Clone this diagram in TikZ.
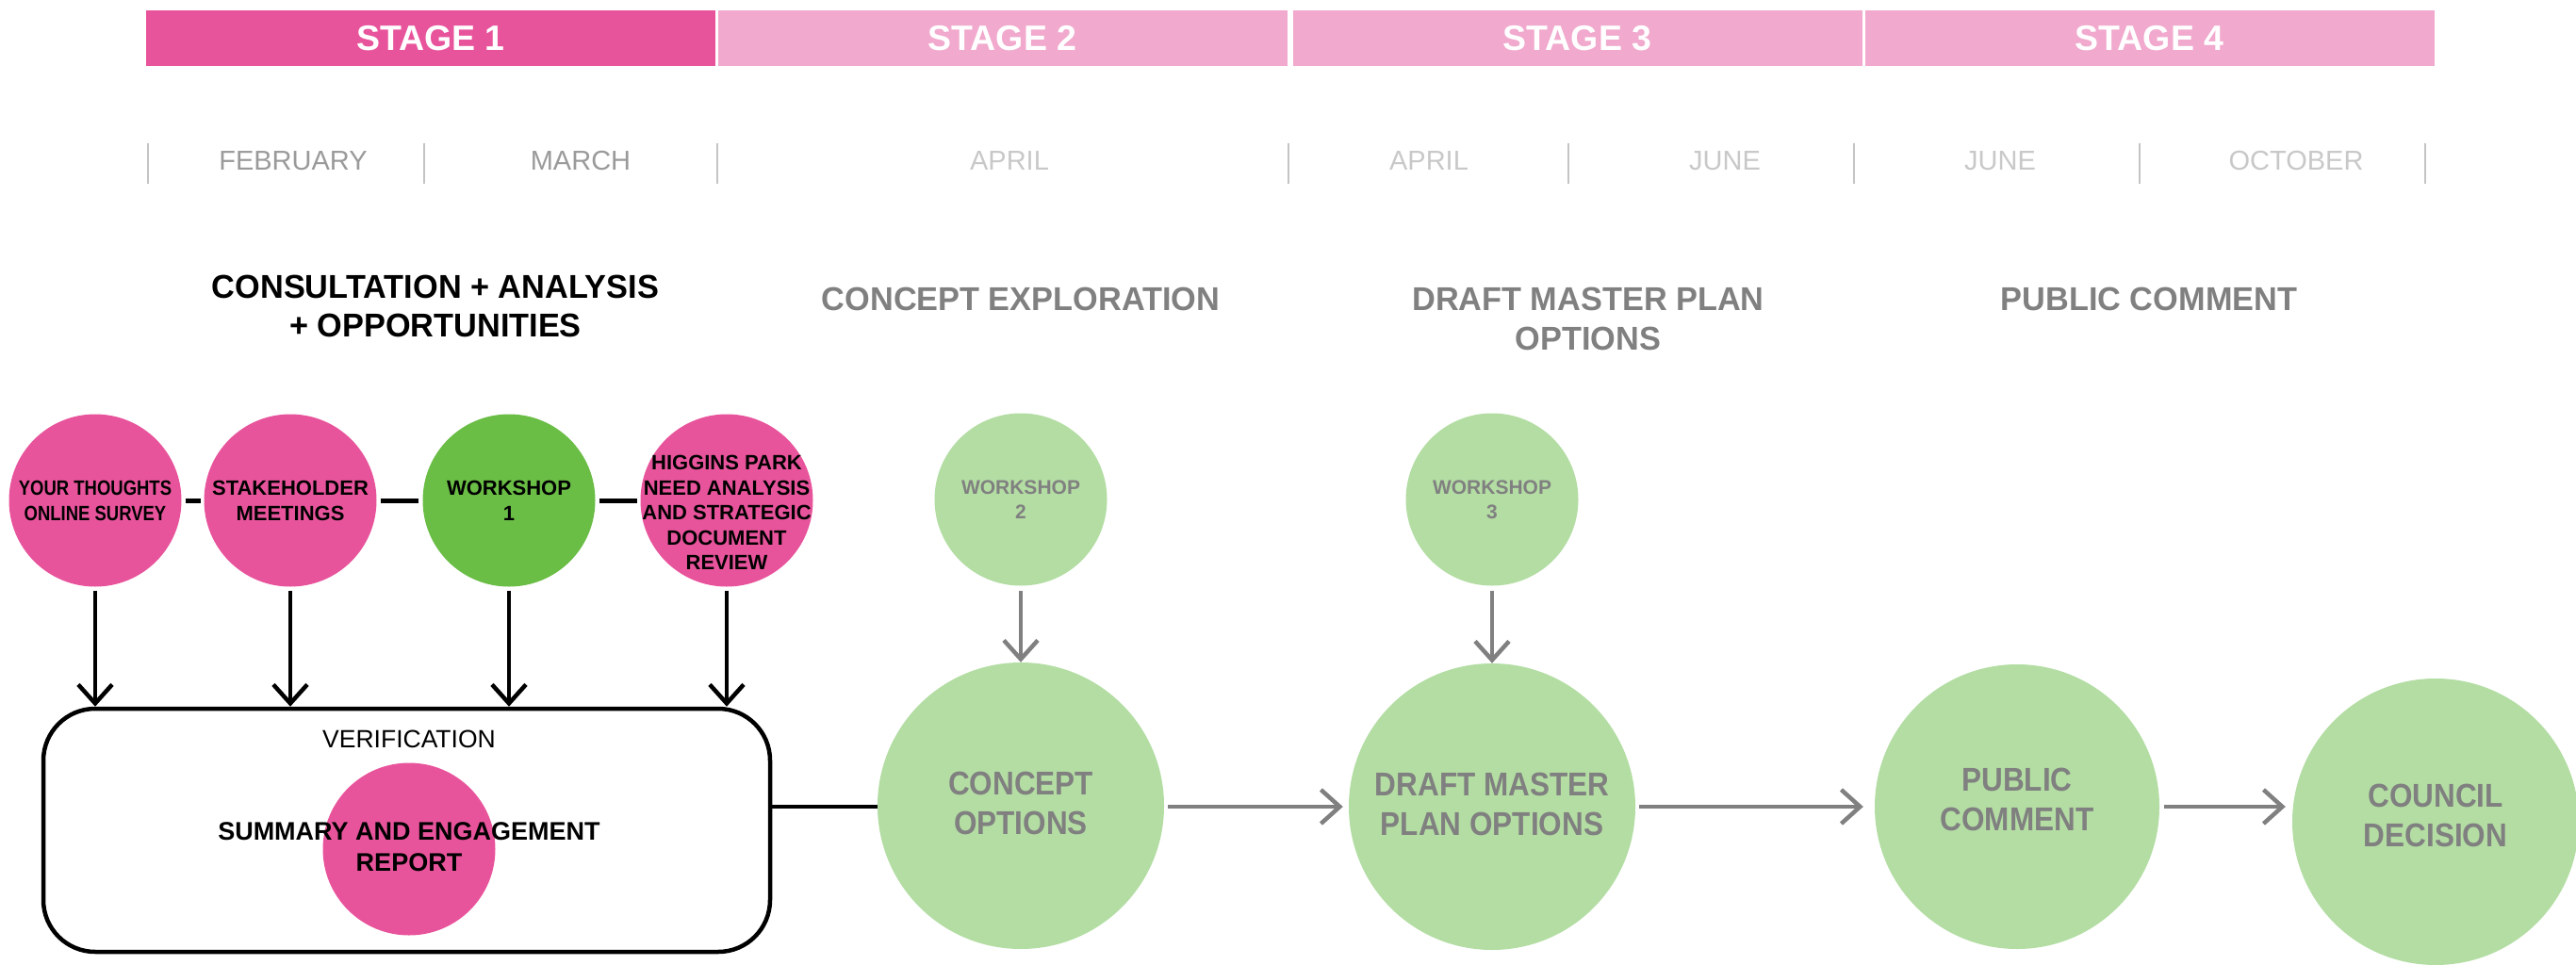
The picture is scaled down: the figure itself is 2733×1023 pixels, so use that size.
\documentclass[tikz,border=0pt]{standalone}
\usepackage{fontspec}
\setmainfont{Liberation Sans}
\newfontfamily\hfont{Liberation Sans}[FakeStretch=0.98]
\newfontfamily\cfont{Liberation Sans}[FakeStretch=0.9]
\newfontfamily\ccfont{Liberation Sans}[FakeStretch=0.84]
\usetikzlibrary{arrows.meta}
\definecolor{hotpink}{HTML}{E8549C}
\definecolor{softpink}{HTML}{F1A9CD}
\definecolor{dgreen}{HTML}{6ABD45}
\definecolor{lgreen}{HTML}{B3DDA3}
\definecolor{tgray}{HTML}{808080}
\definecolor{mgray}{HTML}{9A9A9A}
\definecolor{lmgray}{HTML}{C8C8C8}
\definecolor{tickgray}{HTML}{C4C4C4}
\begin{document}
\begin{tikzpicture}[x=1pt,y=-1pt,
  stagebox/.style={rectangle, minimum width=604pt, minimum height=59pt, inner sep=0pt, text=white, font=\bfseries\fontsize{37.5}{40}\selectfont},
  month/.style={inner sep=0pt, font=\fontsize{29}{30}\selectfont},
  tickline/.style={draw=tickgray, line width=1.5pt},
  head/.style={inner sep=0pt, align=center, font=\hfont\bfseries\fontsize{35}{41}\selectfont},
  smallc/.style={circle, inner sep=0pt, minimum size=183pt},
  bigc/.style={circle, inner sep=0pt, minimum size=304pt, fill=lgreen},
  stxt/.style={inner sep=0pt, align=center, font=\bfseries\fontsize{22}{27}\selectfont},
  wtxt/.style={inner sep=0pt, align=center, text=tgray, font=\bfseries\fontsize{21}{26}\selectfont},
  btxt/.style={inner sep=0pt, align=center, text=tgray, font=\cfont\bfseries\fontsize{35}{42}\selectfont},
  barr/.style={-{Straight Barb[length=20pt,width=36pt]}, line width=4.5pt, black},
  garr/.style={-{Straight Barb[length=20pt,width=36pt]}, line width=4.5pt, tgray},
  link/.style={line width=5pt, black}
]
\useasboundingbox (0,0) rectangle (2733,1023);

% stage bars
\node[stagebox, fill=hotpink]  (s1) at (457,40.5)  {STAGE 1};
\node[stagebox, fill=softpink] (s2) at (1063.5,40.5) {STAGE 2};
\node[stagebox, fill=softpink] (s3) at (1673.5,40.5) {STAGE 3};
\node[stagebox, fill=softpink] (s4) at (2280.5,40.5) {STAGE 4};

% month ticks
\foreach \x in {157,450,761,1367,1664,1967,2270,2573}
  \draw[tickline] (\x,152) -- (\x,195);

% months
\node[month, text=mgray]  (m1) at (311,171)  {FEBRUARY};
\node[month, text=mgray]  (m2) at (616,171)  {MARCH};
\node[month, text=lmgray] (m3) at (1071,171) {APRIL};
\node[month, text=lmgray] (m4) at (1516,171) {APRIL};
\node[month, text=lmgray] (m5) at (1830,171) {JUNE};
\node[month, text=lmgray] (m6) at (2122,171) {JUNE};
\node[month, text=lmgray] (m7) at (2436,171) {OCTOBER};

% headings
\node[head, text=black] (h1) at (462,325) {CONSULTATION + ANALYSIS\\+ OPPORTUNITIES};
\node[head, text=tgray] (h2) at (1083,317.5) {CONCEPT EXPLORATION};
\node[head, text=tgray, font=\hfont\bfseries\fontsize{35}{42}\selectfont] (h3) at (1685,338.5) {DRAFT MASTER PLAN\\OPTIONS};
\node[head, text=tgray] (h4) at (2280,317.5) {PUBLIC COMMENT};

% stage 1 circles
\node[smallc, fill=hotpink] (c1) at (101,531) {};
\node[smallc, fill=hotpink] (c2) at (308,531) {};
\node[smallc, fill=dgreen]  (c3) at (540,531) {};
\node[smallc, fill=hotpink] (c4) at (771,531) {};
\node[stxt, font=\ccfont\bfseries\fontsize{22}{27}\selectfont] (t1) at (c1) {YOUR THOUGHTS\\ONLINE SURVEY};
\node[stxt] (t2) at (c2) {STAKEHOLDER\\MEETINGS};
\node[stxt] (t3) at (c3) {WORKSHOP\\1};
\node[stxt, font=\bfseries\fontsize{22}{26.5}\selectfont] (t4) at (771,544) {HIGGINS PARK\\NEED ANALYSIS\\AND STRATEGIC\\DOCUMENT\\REVIEW};

\draw[link, shorten <=4pt, shorten >=3pt] (c1) -- (c2);
\draw[link, shorten <=4pt, shorten >=4pt] (c2) -- (c3);
\draw[link, shorten <=4pt, shorten >=3pt] (c3) -- (c4);

% verification box
\node[draw=black, line width=4.5pt, rounded corners=55pt, minimum width=771pt, minimum height=258pt, inner sep=0pt] (box) at (431.5,881) {};
\node[inner sep=0pt, font=\fontsize{26.5}{28}\selectfont] (ver) at (434,784.5) {VERIFICATION};
\node[smallc, fill=hotpink] (sr) at (434,901) {};
\node[stxt, font=\bfseries\fontsize{27}{33}\selectfont] (srt) at (434,898.5) {SUMMARY AND ENGAGEMENT\\REPORT};

\foreach \c in {c1,c2,c3,c4}
  \draw[barr, shorten <=4pt] (\c.south) -- (\c.south |- box.north);

% later stages
\node[smallc, fill=lgreen] (w2) at (1083,530) {};
\node[wtxt] (w2t) at (w2) {WORKSHOP\\2};
\node[smallc, fill=lgreen] (w3) at (1583,530) {};
\node[wtxt] (w3t) at (w3) {WORKSHOP\\3};

\node[bigc] (co) at (1083,855) {};
\node[btxt] (cot) at (1083,852) {CONCEPT\\OPTIONS};
\node[bigc] (dm) at (1583,856) {};
\node[btxt] (dmt) at (1583,853) {DRAFT MASTER\\PLAN OPTIONS};
\node[bigc, minimum size=302pt] (pc) at (2140,856) {};
\node[btxt] (pct) at (2140,848) {PUBLIC\\COMMENT};
\node[bigc] (cd) at (2584,872) {};
\node[btxt] (cdt) at (2584,865) {COUNCIL\\DECISION};

\draw[link, line width=4.5pt] (box.east |- 0,856) -- (co.west |- 0,856);
\draw[garr, shorten <=5pt] (w2.south) -- (co.north);
\draw[garr, shorten <=5pt] (w3.south) -- (dm.north);
\draw[garr, shorten <=4pt, shorten >=6pt] (co.east |- 0,856) -- (dm.west |- 0,856);
\draw[garr, shorten <=4pt, shorten >=12pt] (dm.east |- 0,856) -- (pc.west |- 0,856);
\draw[garr, shorten <=5pt, shorten >=7pt] (pc.east |- 0,856) -- (cd.west |- 0,856);
\end{tikzpicture}
\end{document}
